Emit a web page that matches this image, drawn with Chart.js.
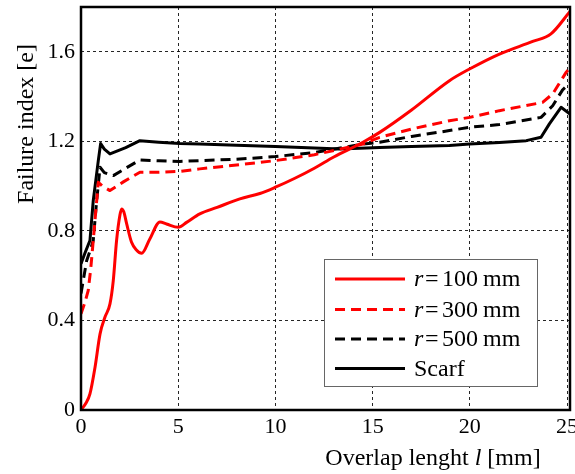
<!DOCTYPE html>
<html>
<head>
<meta charset="utf-8">
<script src="https://cdn.jsdelivr.net/npm/chart.js@4.4.0/dist/chart.umd.min.js"></script>
<style>
html,body{margin:0;padding:0;background:#fff;}
#wrap{width:575px;height:474px;}
</style>
</head>
<body>
<div id="wrap"><canvas id="c" width="575" height="474"></canvas></div>
<script>
// ---- data ----
const seriesNames = ['r100', 'r300', 'r500', 'Scarf'];

const r100X = [0, 0.25, 0.46, 0.72, 0.98, 1.23, 1.49, 1.66, 1.83, 2.0, 2.09, 2.2, 2.35, 2.6, 2.85, 3.12, 3.54, 4.06, 4.4, 5.0, 5.43, 6.11, 7.0, 8.17, 9.2, 10.0, 11.0, 12.0, 13.0, 14.5, 15.36, 17.0, 18.95, 19.98, 21.52, 23.23, 24.17, 25.15];
const r100Y = [0, 0.03, 0.072, 0.19, 0.34, 0.414, 0.474, 0.578, 0.757, 0.87, 0.898, 0.885, 0.831, 0.749, 0.715, 0.70, 0.764, 0.84, 0.831, 0.816, 0.838, 0.876, 0.905, 0.943, 0.967, 0.995, 1.035, 1.08, 1.13, 1.196, 1.24, 1.34, 1.471, 1.523, 1.59, 1.646, 1.68, 1.78];

const r300X = [0, 0.2, 0.37, 0.5, 0.63, 0.89, 1.1, 1.49, 2.2, 3.03, 4.0, 5.08, 6.11, 8.0, 10.0, 12.0, 14.5, 15.36, 17.0, 18.95, 20.0, 21.52, 23.74, 24.26, 24.95, 25.15];
const r300Y = [0.43, 0.48, 0.533, 0.63, 0.757, 1.017, 1.0, 0.98, 1.02, 1.062, 1.062, 1.066, 1.077, 1.094, 1.114, 1.14, 1.188, 1.218, 1.255, 1.292, 1.307, 1.337, 1.374, 1.412, 1.508, 1.53];

const r500X = [0, 0.29, 0.5, 0.63, 0.8, 0.98, 1.2, 1.66, 2.3, 3.03, 4.0, 5.08, 6.11, 8.0, 10.0, 12.0, 14.5, 15.36, 17.0, 18.95, 20.0, 21.52, 23.66, 24.26, 24.77, 25.15];
const r500Y = [0.52, 0.667, 0.72, 0.757, 0.93, 1.084, 1.06, 1.047, 1.08, 1.117, 1.113, 1.11, 1.114, 1.12, 1.132, 1.15, 1.188, 1.196, 1.222, 1.248, 1.263, 1.275, 1.307, 1.359, 1.43, 1.46];

const scarfX = [0, 0.2, 0.46, 0.63, 0.89, 1.01, 1.2, 1.49, 2.3, 3.03, 4.0, 5.08, 6.11, 8.0, 10.0, 12.0, 13.3, 15.36, 17.0, 18.95, 19.98, 21.52, 22.9, 23.66, 24.09, 24.69, 25.15];
const scarfY = [0.653, 0.7, 0.757, 0.935, 1.114, 1.19, 1.165, 1.144, 1.172, 1.203, 1.196, 1.19, 1.188, 1.182, 1.177, 1.17, 1.166, 1.173, 1.177, 1.181, 1.188, 1.195, 1.203, 1.218, 1.278, 1.352, 1.322];

const xTickValues = [0, 5, 10, 15, 20, 25];
const xTickLabels = ['0', '5', '10', '15', '20', '25'];
const yTickValues = [0, 0.4, 0.8, 1.2, 1.6];
const yTickLabels = ['0', '0.4', '0.8', '1.2', '1.6'];

const legendNums = ['100', '300', '500'];
const legendScarf = 'Scarf';
const yTitle = 'Failure index [e]';
const xTitleParts = ['Overlap lenght ', 'l', ' [mm]'];

// ---- build ----
const pts = (xs, ys) => xs.map((x, i) => ({x: x, y: ys[i]}));
const RED = '#ff0000', BLACK = '#000000';
const DASH = [10, 6];
const FONT = 'Liberation Serif';

const datasets = [
  {label: seriesNames[0], data: pts(r100X, r100Y), borderColor: RED, borderWidth: 3, cubicInterpolationMode: 'monotone'},
  {label: seriesNames[1], data: pts(r300X, r300Y), borderColor: RED, borderWidth: 3, borderDash: DASH},
  {label: seriesNames[2], data: pts(r500X, r500Y), borderColor: BLACK, borderWidth: 3, borderDash: DASH},
  {label: seriesNames[3], data: pts(scarfX, scarfY), borderColor: BLACK, borderWidth: 3}
];
datasets.forEach(d => { d.pointRadius = 0; d.fill = false; d.borderCapStyle = 'butt'; d.borderJoinStyle = 'round'; });

const framePlugin = {
  id: 'frame',
  afterDatasetsDraw(chart) {
    const {ctx, chartArea: a} = chart;
    ctx.save();
    ctx.strokeStyle = '#000';
    ctx.lineWidth = 2.5;
    ctx.strokeRect(a.left, a.top, a.right - a.left, a.bottom - a.top);
    ctx.restore();
  }
};

const decorPlugin = {
  id: 'decor',
  afterDraw(chart) {
    const ctx = chart.ctx;
    ctx.save();
    // legend box
    const L = 324, T = 259, R = 538, B = 387;
    ctx.fillStyle = '#fff';
    ctx.fillRect(L, T, R - L, B - T);
    ctx.strokeStyle = '#666';
    ctx.lineWidth = 1;
    ctx.strokeRect(L + 0.5, T + 0.5, R - L - 1, B - T - 1);
    const rowsY = [279, 309.5, 339, 368.5];
    const F = '24px "' + FONT + '"';
    chart.data.datasets.forEach((ds, i) => {
      const y = rowsY[i];
      ctx.beginPath();
      ctx.strokeStyle = ds.borderColor;
      ctx.lineWidth = 3;
      ctx.setLineDash(ds.borderDash || []);
      ctx.lineCap = 'butt';
      ctx.moveTo(335, y);
      ctx.lineTo(405, y);
      ctx.stroke();
      ctx.setLineDash([]);
      ctx.fillStyle = '#000';
      ctx.textBaseline = 'middle';
      ctx.textAlign = 'left';
      if (i < 3) {
        ctx.font = 'italic ' + F;
        ctx.fillText('r', 414, y + 1);
        ctx.font = F;
        ctx.fillText('=', 425, y + 1);
        ctx.fillText(legendNums[i], 442, y + 1);
        const w = ctx.measureText(legendNums[i]).width;
        ctx.fillText('mm', 442 + w + 5, y + 1);
      } else {
        ctx.font = F;
        ctx.fillText(legendScarf, 414, y + 1);
      }
    });
    // y title
    ctx.fillStyle = '#000';
    ctx.font = '24px "' + FONT + '"';
    ctx.translate(33, 124);
    ctx.rotate(-Math.PI / 2);
    ctx.textAlign = 'center';
    ctx.textBaseline = 'alphabetic';
    ctx.fillText(yTitle, 0, 0);
    ctx.setTransform(1, 0, 0, 1, 0, 0);
    // x title
    const fonts = ['24px "' + FONT + '"', 'italic 24px "' + FONT + '"', '24px "' + FONT + '"'];
    let widths = xTitleParts.map((t, i) => { ctx.font = fonts[i]; return ctx.measureText(t).width; });
    const total = widths.reduce((a, b) => a + b, 0);
    let x = 433 - total / 2;
    ctx.textAlign = 'left';
    xTitleParts.forEach((t, i) => { ctx.font = fonts[i]; ctx.fillText(t, x, 465); x += widths[i]; });
    ctx.restore();
  }
};

new Chart(document.getElementById('c'), {
  type: 'line',
  data: {datasets: datasets},
  options: {
    responsive: false,
    animation: false,
    devicePixelRatio: 1,
    layout: {padding: {top: 7, right: 5, left: 0, bottom: 0}},
    plugins: {legend: {display: false}, tooltip: {enabled: false}},
    scales: {
      x: {
        type: 'linear', min: 0, max: 25.15,
        afterBuildTicks: s => { s.ticks = xTickValues.map(v => ({value: v})); },
        afterFit: s => { s.height = 64; s.paddingLeft = 0; s.paddingRight = 0; },
        ticks: {color: '#000', font: {family: FONT, size: 22}, padding: 4, maxRotation: 0,
                callback: (v, i) => xTickLabels[i]},
        grid: {color: 'rgba(0,0,0,0.85)', lineWidth: 1, drawTicks: false},
        border: {display: false, dash: [3, 3]}
      },
      y: {
        type: 'linear', min: 0, max: 1.8,
        afterBuildTicks: s => { s.ticks = yTickValues.map(v => ({value: v})); },
        afterFit: s => { s.width = 81; s.paddingTop = 0; s.paddingBottom = 0; },
        ticks: {color: '#000', font: {family: FONT, size: 22}, padding: 6,
                callback: (v, i) => yTickLabels[i]},
        grid: {color: 'rgba(0,0,0,0.85)', lineWidth: 1, drawTicks: false},
        border: {display: false, dash: [3, 3]}
      }
    }
  },
  plugins: [framePlugin, decorPlugin]
});
</script>
</body>
</html>
